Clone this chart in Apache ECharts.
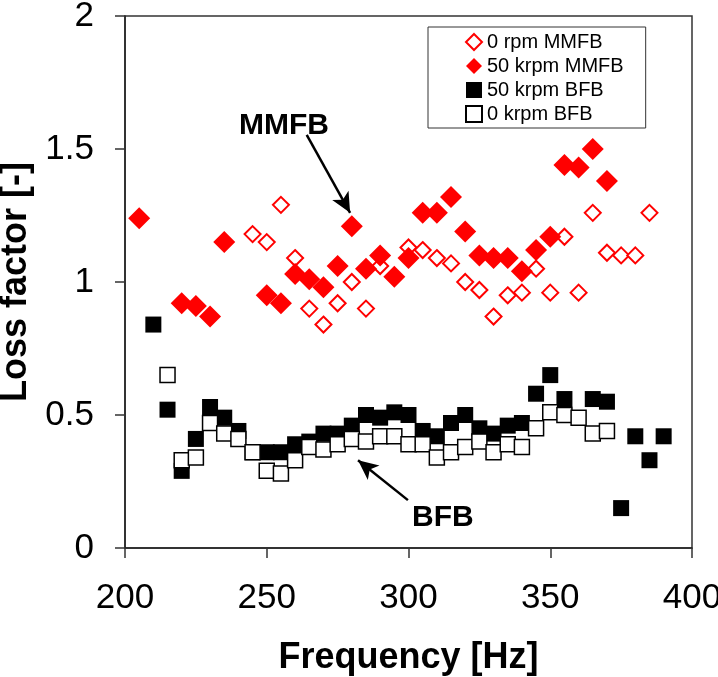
<!DOCTYPE html>
<html>
<head>
<meta charset="utf-8">
<script src="https://cdn.jsdelivr.net/npm/echarts@6/dist/echarts.min.js"></script>
<style>
  html, body { margin: 0; padding: 0; background: #fff; }
  #chart { width: 718px; height: 677px; }
</style>
</head>
<body>
<div id="chart"></div>
<script>
// 0 rpm MMFB (open red diamonds)
const mmfb0Freq = [245, 250, 255, 260, 265, 270, 275, 280, 285, 290, 300, 305, 310, 315, 320, 325, 330, 335, 340, 345, 350, 355, 360, 365, 370, 375, 380, 385];
const mmfb0Loss = [1.18, 1.15, 1.29, 1.09, 0.90, 0.84, 0.92, 1.00, 0.90, 1.06, 1.13, 1.12, 1.09, 1.07, 1.00, 0.97, 0.87, 0.95, 0.96, 1.05, 0.96, 1.17, 0.96, 1.26, 1.11, 1.10, 1.10, 1.26];

// 50 krpm MMFB (filled red diamonds)
const mmfb50Freq = [205, 220, 225, 230, 235, 250, 255, 260, 265, 270, 275, 280, 285, 290, 295, 300, 305, 310, 315, 320, 325, 330, 335, 340, 345, 350, 355, 360, 365, 370];
const mmfb50Loss = [1.24, 0.92, 0.91, 0.87, 1.15, 0.95, 0.92, 1.03, 1.01, 0.98, 1.06, 1.21, 1.05, 1.10, 1.02, 1.09, 1.26, 1.26, 1.32, 1.19, 1.10, 1.09, 1.09, 1.04, 1.12, 1.17, 1.44, 1.43, 1.50, 1.38];

// 50 krpm BFB (filled black squares)
const bfb50Freq = [210, 215, 220, 225, 230, 235, 240, 245, 250, 255, 260, 265, 270, 275, 280, 285, 290, 295, 300, 305, 310, 315, 320, 325, 330, 335, 340, 345, 350, 355, 365, 370, 375, 380, 385, 390];
const bfb50Loss = [0.84, 0.52, 0.29, 0.41, 0.53, 0.49, 0.44, 0.36, 0.36, 0.36, 0.39, 0.40, 0.43, 0.43, 0.46, 0.50, 0.49, 0.51, 0.50, 0.44, 0.42, 0.47, 0.50, 0.45, 0.43, 0.46, 0.47, 0.58, 0.65, 0.56, 0.56, 0.55, 0.15, 0.42, 0.33, 0.42];

// 0 krpm BFB (open black squares)
const bfb0Freq = [215, 220, 225, 230, 235, 240, 245, 250, 255, 260, 265, 270, 275, 280, 285, 290, 295, 300, 305, 310, 315, 320, 325, 330, 335, 340, 345, 350, 355, 360, 365, 370];
const bfb0Loss = [0.65, 0.33, 0.34, 0.47, 0.43, 0.41, 0.36, 0.29, 0.28, 0.33, 0.38, 0.37, 0.39, 0.41, 0.40, 0.42, 0.42, 0.39, 0.39, 0.34, 0.36, 0.38, 0.40, 0.36, 0.39, 0.38, 0.45, 0.51, 0.50, 0.49, 0.43, 0.44];

const seriesNames = ["0 rpm MMFB", "50 krpm MMFB", "50 krpm BFB", "0 krpm BFB"];

const pairs = (xs, ys) => xs.map((x, i) => [x, ys[i]]);
const FONT = "Liberation Sans, Arial, sans-serif";

const chart = echarts.init(document.getElementById("chart"));
chart.setOption({
  animation: false,
  backgroundColor: "#fff",
  grid: {
    left: 125,
    right: 26,
    top: 16,
    bottom: 129,
    outerBoundsMode: "none",
    containLabel: false,
    show: true,
    borderColor: "#333",
    borderWidth: 1.5,
  },
  legend: {
    data: seriesNames,
    orient: "vertical",
    left: 428,
    top: 27,
    itemWidth: 16,
    itemHeight: 16,
    itemGap: 4,
    padding: [5, 22, 4, 37],
    borderColor: "#333",
    borderWidth: 1,
    backgroundColor: "#fff",
    textStyle: { fontFamily: FONT, fontSize: 20, color: "#000" },
  },
  xAxis: {
    type: "value",
    min: 200,
    max: 400,
    interval: 50,
    name: "Frequency [Hz]",
    nameLocation: "middle",
    nameGap: 92,
    nameTextStyle: { fontFamily: FONT, fontSize: 36, fontWeight: "bold", color: "#000" },
    splitLine: { show: false },
    axisLine: { lineStyle: { color: "#222", width: 1.5 } },
    axisTick: { inside: false, length: 10, lineStyle: { color: "#333", width: 1.5 } },
    axisLabel: { margin: 33, fontFamily: FONT, fontSize: 35, color: "#000" },
  },
  yAxis: {
    type: "value",
    min: 0,
    max: 2,
    interval: 0.5,
    name: "Loss factor [-]",
    nameLocation: "middle",
    nameGap: 86,
    nameTextStyle: { fontFamily: FONT, fontSize: 36, fontWeight: "bold", color: "#000" },
    splitLine: { show: false },
    axisLine: { lineStyle: { color: "#222", width: 1.5 } },
    axisTick: { inside: false, length: 10, lineStyle: { color: "#333", width: 1.5 } },
    axisLabel: { margin: 31, fontFamily: FONT, fontSize: 35, color: "#000" },
  },
  graphic: [
    {
      type: "text",
      left: 239,
      top: 111,
      style: { text: "MMFB", font: "bold 30px " + FONT, fill: "#000" },
    },
    {
      type: "text",
      left: 412,
      top: 503,
      style: { text: "BFB", font: "bold 30px " + FONT, fill: "#000" },
    },
  ],
  series: [
    {
      name: seriesNames[0],
      type: "scatter",
      symbol: "diamond",
      symbolSize: 16,
      data: pairs(mmfb0Freq, mmfb0Loss),
      itemStyle: { color: "#fff", borderColor: "#ff0000", borderWidth: 2, opacity: 1 },
      z: 2,
    },
    {
      name: seriesNames[1],
      type: "scatter",
      symbol: "diamond",
      symbolSize: 22,
      data: pairs(mmfb50Freq, mmfb50Loss),
      itemStyle: { color: "#ff0000", opacity: 1 },
      z: 3,
      markLine: {
        silent: true,
        symbol: ["none", "arrow"],
        symbolSize: [14, 20],
        label: { show: false },
        lineStyle: { color: "#000", width: 2.5, type: "solid" },
        data: [
          [{ coord: [264.1, 1.553] }, { coord: [279.4, 1.26] }],
          [{ coord: [299.8, 0.18] }, { coord: [282.2, 0.33] }],
        ],
      },
    },
    {
      name: seriesNames[2],
      type: "scatter",
      symbol: "rect",
      symbolSize: 16,
      data: pairs(bfb50Freq, bfb50Loss),
      itemStyle: { color: "#000", opacity: 1 },
      z: 4,
    },
    {
      name: seriesNames[3],
      type: "scatter",
      symbol: "rect",
      symbolSize: 15,
      data: pairs(bfb0Freq, bfb0Loss),
      itemStyle: { color: "#fff", borderColor: "#000", borderWidth: 1.5, opacity: 1 },
      z: 5,
    },
  ],
});
</script>
</body>
</html>
